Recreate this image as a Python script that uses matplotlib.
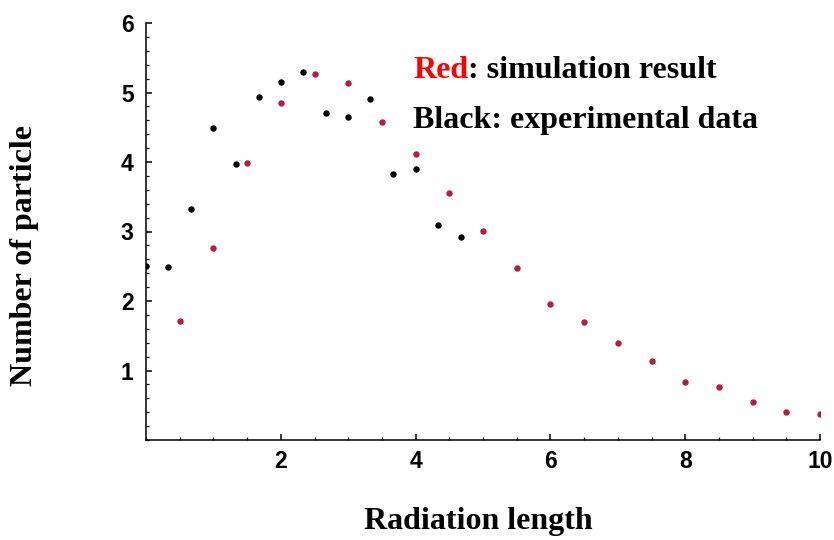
import matplotlib
matplotlib.use("Agg")
import matplotlib.pyplot as plt
from matplotlib.ticker import MultipleLocator

# experimental data (black), every 1/3 radiation length
exp_x = [0.0, 0.33, 0.67, 1.0, 1.33, 1.67, 2.0, 2.33, 2.67, 3.0, 3.33, 3.67, 4.0, 4.33, 4.67]
exp_y = [2.51, 2.49, 3.32, 4.49, 3.97, 4.94, 5.15, 5.30, 4.70, 4.65, 4.91, 3.83, 3.90, 3.09, 2.92]

# simulation result (red), every 0.5 radiation length
sim_x = [0.5, 1.0, 1.5, 2.0, 2.5, 3.0, 3.5, 4.0, 4.5, 5.0, 5.5, 6.0, 6.5, 7.0, 7.5,
         8.0, 8.5, 9.0, 9.5, 10.0]
sim_y = [1.71, 2.76, 3.99, 4.85, 5.26, 5.13, 4.57, 4.12, 3.55, 3.01, 2.47, 1.95, 1.70,
         1.40, 1.13, 0.84, 0.76, 0.55, 0.40, 0.38]

x_ticks = [2, 4, 6, 8, 10]
y_ticks = [1, 2, 3, 4, 5, 6]

SERIF = ["Liberation Serif", "DejaVu Serif"]
SANS = ["Liberation Sans", "DejaVu Sans"]

fig = plt.figure(figsize=(8.34, 5.40), dpi=100)
ax = fig.add_axes([146/834, 100/540, (820-146)/834, (440-23)/540])

ax.plot(exp_x, exp_y, "o", color="black", ms=4.6, mec="none", clip_on=True)
ax.plot(sim_x, sim_y, "o", color="#b41e3c", ms=4.6, mec="none", clip_on=True)

ax.set_xlim(0, 10)
ax.set_ylim(0, 6)
ax.set_xticks(x_ticks)
ax.set_yticks(y_ticks)
ax.xaxis.set_minor_locator(MultipleLocator(0.5))
ax.yaxis.set_minor_locator(MultipleLocator(0.2))
ax.tick_params(which="major", direction="in", length=4, width=1.1, pad=7)
ax.tick_params(which="minor", direction="in", length=2.5, width=0.9)
ax.tick_params(axis="y", pad=9)
for lab in ax.get_xticklabels() + ax.get_yticklabels():
    lab.set_family(SANS)
    lab.set_fontsize(16.5)
    lab.set_fontweight("bold")

for s in ["top", "right"]:
    ax.spines[s].set_visible(False)
for s in ["left", "bottom"]:
    ax.spines[s].set_linewidth(1.1)

fig.text(478/834, 1 - 522/540, "Radiation length", family=SERIF, fontsize=23,
         fontweight="bold", ha="center", va="center")
fig.text(25/834, 1 - 256/540, "Number of particle", family=SERIF, fontsize=23,
         fontweight="bold", ha="center", va="center", rotation=90)

t = fig.text(413/834, 1 - 78/540, "Red", family=SERIF, fontsize=23,
             fontweight="bold", color="#ff0000", va="baseline")
ax.annotate(": simulation result", xy=(1, 0), xycoords=t, va="bottom",
            family=SERIF, fontsize=23, fontweight="bold", color="black",
            annotation_clip=False)
fig.text(413/834, 1 - 128/540, "Black: experimental data", family=SERIF, fontsize=23,
         fontweight="bold", color="black", va="baseline")

fig.savefig("out.png", dpi=100, facecolor="white")
